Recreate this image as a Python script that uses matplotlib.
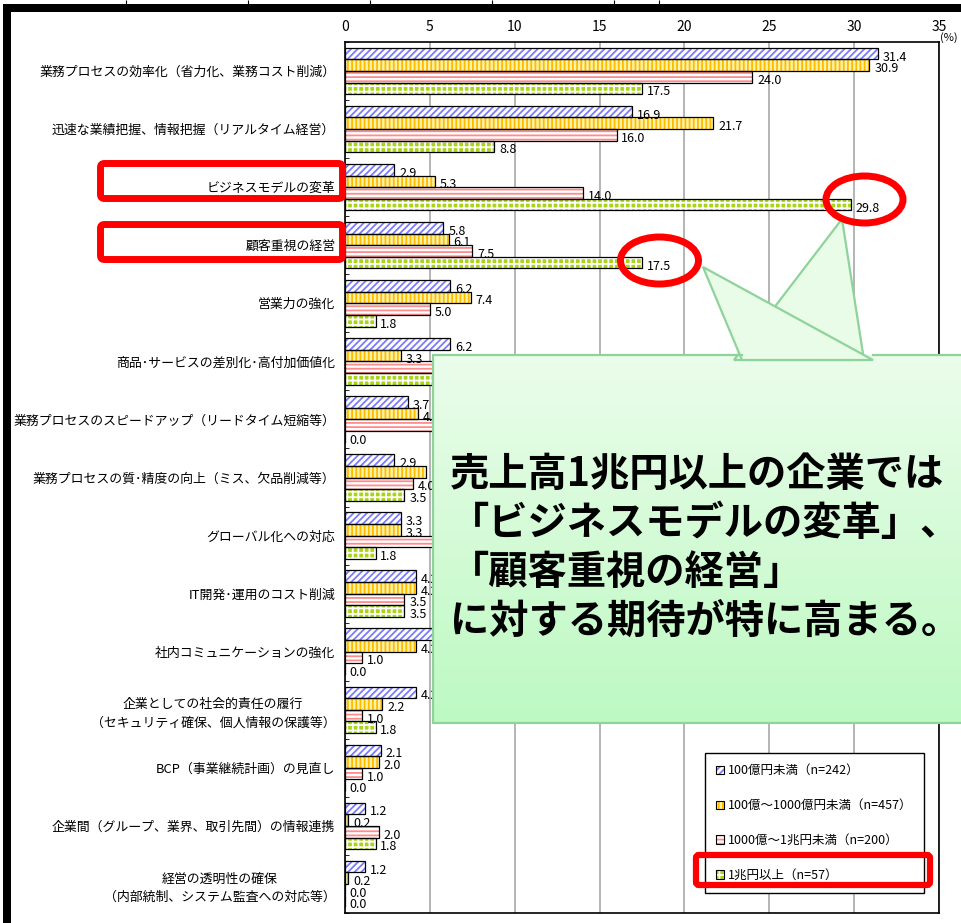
"""
## Bar chart of expected IT investment effects by company size,
## with slide-style callout and red highlight marks.
"""

import numpy as np
import matplotlib
matplotlib.use('Agg')
import matplotlib.pyplot as plt
from matplotlib.legend_handler import HandlerTuple
from matplotlib.patches import Rectangle, Ellipse, Polygon, FancyBboxPatch, Patch

## Chart data.
categories = ['業務プロセスの効率化（省力化、業務コスト削減）',
              '迅速な業績把握、情報把握（リアルタイム経営）',
              'ビジネスモデルの変革',
              '顧客重視の経営',
              '営業力の強化',
              '商品･サービスの差別化･高付加価値化',
              '業務プロセスのスピードアップ（リードタイム短縮等）',
              '業務プロセスの質･精度の向上（ミス、欠品削減等）',
              'グローバル化への対応',
              'IT開発･運用のコスト削減',
              '社内コミュニケーションの強化',
              '企業としての社会的責任の履行\n（セキュリティ確保、個人情報の保護等）',
              'BCP（事業継続計画）の見直し',
              '企業間（グループ、業界、取引先間）の情報連携',
              '経営の透明性の確保\n（内部統制、システム監査への対応等）']

v_lt100  = [31.4, 16.9, 2.9, 5.8, 6.2, 6.2, 3.7, 2.9, 3.3, 4.2, 5.4, 4.2, 2.1, 1.2, 1.2]
v_lt1000 = [30.9, 21.7, 5.3, 6.1, 7.4, 3.3, 4.3, 4.8, 3.3, 4.2, 4.2, 2.2, 2.0, 0.2, 0.2]
v_lt1cho = [24.0, 16.0, 14.0, 7.5, 5.0, 7.0, 6.0, 4.0, 6.0, 3.5, 1.0, 1.0, 1.0, 2.0, 0.0]
v_ge1cho = [17.5, 8.8, 29.8, 17.5, 1.8, 5.3, 0.0, 3.5, 1.8, 3.5, 0.0, 1.8, 0.0, 1.8, 0.0]

series_names = ['100億円未満（n=242）', '100億～1000億円未満（n=457）',
                '1000億～1兆円未満（n=200）', '1兆円以上（n=57）']
xticks = [0, 5, 10, 15, 20, 25, 30, 35]

callout_lines = ['売上高1兆円以上の企業では', '「ビジネスモデルの変革」、',
                 '「顧客重視の経営」', 'に対する期待が特に高まる。']

## Bar styles: face colour, hatch colour, hatch pattern.
styles = [('white',   '#7b7bff', '/////'),
          ('#fff3a8', '#ffbb00', '||||'),
          ('white',   '#ff8c8c', '----'),
          ('#a9d418', 'white',   '+++')]

plt.rcParams['font.family'] = ['Noto Sans CJK JP', 'DejaVu Sans']
plt.rcParams['hatch.linewidth'] = 1.3

W, H = 961, 923
fig = plt.figure(figsize=(W/100, H/100), dpi=100)
fig.patch.set_facecolor('white')

## Main bar axes, placed in pixel terms.
x0, x1, y0, y1 = 345, 939, 42, 913
ax = fig.add_axes([x0/W, 1-y1/H, (x1-x0)/W, (y1-y0)/H])

allv = [v_lt100, v_lt1000, v_lt1cho, v_ge1cho]
ng = len(categories)
hbar = 0.2
handles = []
for j, vals in enumerate(allv):
    fc, hc, hp = styles[j]
    ypos = np.arange(ng) + 0.1 + hbar*(j + 0.5)
    ax.barh(ypos, vals, height=hbar, color=fc, edgecolor=hc, hatch=hp,
            linewidth=0, zorder=3)
    ax.barh(ypos, vals, height=hbar, fill=False, edgecolor='black',
            linewidth=0.9, zorder=4)
    for yv, v in zip(ypos, vals):
        ax.annotate(f'{v:.1f}', (v, yv), xytext=(3.5, -2.5),
                    textcoords='offset points', ha='left', va='center',
                    fontsize=9, zorder=5)
    handles.append((Patch(facecolor=fc, edgecolor=hc, hatch=hp, linewidth=0),
                    Patch(fill=False, edgecolor='black', linewidth=0.8)))

ax.set_xlim(0, 35)
ax.set_ylim(ng, 0)
ax.xaxis.tick_top()
ax.set_xticks(xticks)
ax.set_xticklabels([str(t) for t in xticks], fontsize=10)
ax.tick_params(axis='x', length=0, pad=6)
ax.grid(axis='x', color='#a0a0a0', linewidth=1.1, zorder=0)
ax.set_axisbelow(True)

ax.set_yticks(np.arange(ng) + 0.5)
ax.set_yticklabels(categories, fontsize=9.3)
for lbl in ax.get_yticklabels():
    lbl.set_multialignment('center')
    lbl.set_linespacing(1.5)
ax.tick_params(axis='y', length=0, pad=7)
ax.set_yticks(np.arange(ng + 1), minor=True)
ax.tick_params(axis='y', which='minor', direction='in', length=3)
for s in ax.spines.values():
    s.set_color('black')
    s.set_linewidth(1.2)

## Overlay axes in pixel coordinates for slide decorations.
ov = fig.add_axes([0, 0, 1, 1], zorder=5)
ov.set_facecolor('none')
ov.axis('off')

## Thick black frame of the slide screenshot.
ov.add_patch(Rectangle((3, 4), W, 8, color='black', lw=0))
ov.add_patch(Rectangle((3, 4), 8, H, color='black', lw=0))
ov.vlines([126, 248, 370, 492, 614, 659], 0, 4, color='black', lw=0.8)
ov.text(940, 38, '(%)', fontsize=8, ha='left', va='center')

## Callout box with two pointers.
gedge = '#8fd39a'
ov.add_patch(Polygon([(842, 219), (734, 360), (864, 360)], closed=True,
                     facecolor='#e8fce8', edgecolor=gedge, lw=1.6))
ov.add_patch(Polygon([(703, 267), (742, 360), (873, 360)], closed=True,
                     facecolor='#e8fce8', edgecolor=gedge, lw=1.6))
cl, cr, ct, cb = 433, 966, 355, 723
c_top = np.array([0xeb, 0xfd, 0xeb]) / 255
c_bot = np.array([0xbd, 0xf9, 0xc2]) / 255
t = np.linspace(0, 1, 200)[:, None, None]
grad = c_top*(1 - t) + c_bot*t
ov.imshow(grad, extent=(cl, cr, cb, ct), aspect='auto', interpolation='bilinear')
ov.plot([742, cl, cl, cr], [ct, ct, cb, cb], color=gedge, lw=1.6,
        solid_joinstyle='miter')
ov.plot([873, cr], [ct, ct], color=gedge, lw=1.6)
ov.text(450, 454, '\n'.join(callout_lines), fontsize=28.3, fontweight='bold',
        ha='left', va='top', color='black', linespacing=1.25)

## Red highlight marks.
red = '#ff0000'
for (yt, yb) in [(163.5, 198.5), (224.5, 259.5)]:
    ov.add_patch(FancyBboxPatch((100.5, yt), 242, yb - yt,
                                boxstyle='round,pad=0,rounding_size=4',
                                fill=False, edgecolor=red, lw=5))
ov.add_patch(Ellipse((864.5, 199.5), 77, 47, fill=False, edgecolor=red, lw=5))
ov.add_patch(Ellipse((659.5, 260.5), 78, 47, fill=False, edgecolor=red, lw=5))

## Legend box.
leg = ov.legend(handles, series_names, loc='upper left',
                bbox_to_anchor=(705, 753), bbox_transform=ov.transData,
                handler_map={tuple: HandlerTuple(ndivide=1, pad=0)},
                frameon=True, fancybox=False, edgecolor='black', framealpha=1,
                handlelength=0.65, handleheight=0.65, handletextpad=0.3,
                labelspacing=1.75, borderpad=0.9, borderaxespad=0, fontsize=9)
leg.get_frame().set_linewidth(1.0)
ov.add_patch(FancyBboxPatch((696, 855), 234, 30,
                            boxstyle='round,pad=0,rounding_size=3',
                            fill=False, edgecolor=red, lw=4.5, zorder=10))

ov.set_xlim(0, W)
ov.set_ylim(H, 0)

fig.savefig('out.png', dpi=100, facecolor='white')
